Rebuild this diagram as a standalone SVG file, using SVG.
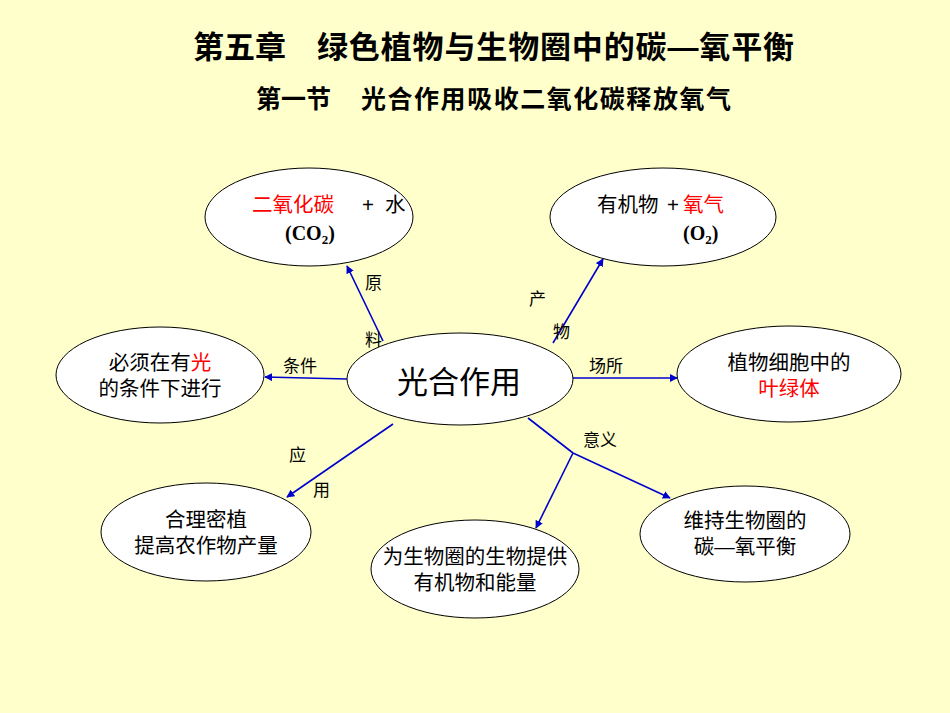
<svg xmlns="http://www.w3.org/2000/svg" width="950" height="713" viewBox="0 0 950 713">
<style>
.t{font-family:"Liberation Sans","Noto Sans CJK SC",sans-serif;fill:#000}
.title{font-size:31px;font-weight:bold}
.sub{font-size:25px;font-weight:bold}
.n{font-size:20.5px;text-anchor:middle}
.lab{font-size:17px}
.red{fill:#FF0000}
.chem{font-family:"Liberation Serif",serif;font-size:20px;font-weight:bold;fill:#000}
.node ellipse{fill:#FFFFFF;stroke:#000;stroke-width:1}
.conn line,.conn polyline{stroke:#0000CC;stroke-width:1.6;fill:none}
</style>
<defs>
<marker id="ah" viewBox="0 0 10 10" refX="9" refY="5" markerWidth="8" markerHeight="8" orient="auto" markerUnits="userSpaceOnUse">
<path d="M0,0 L10,5 L0,10 z" fill="#0000CC"/>
</marker>
</defs>
<rect x="0" y="0" width="950" height="713" fill="#FFFFCC"/>
<text class="t title" x="193" y="58">第五章</text>
<text class="t title" x="317" y="58" textLength="477">绿色植物与生物圈中的碳—氧平衡</text>
<text class="t sub" x="256" y="108">第一节</text>
<text class="t sub" x="361" y="108" textLength="370">光合作用吸收二氧化碳释放氧气</text>

<g class="conn">
<line x1="383" y1="341" x2="347" y2="266" marker-end="url(#ah)"/>
<line x1="553" y1="343" x2="603" y2="259" marker-end="url(#ah)"/>
<line x1="347" y1="379" x2="265" y2="377" marker-end="url(#ah)"/>
<line x1="557" y1="378" x2="677" y2="378" marker-end="url(#ah)"/>
<line x1="393" y1="424" x2="287" y2="497" marker-end="url(#ah)"/>
<polyline points="528,418 573,453"/>
<line x1="573" y1="453" x2="536" y2="528" marker-end="url(#ah)"/>
<line x1="573" y1="453" x2="670" y2="498" marker-end="url(#ah)"/>
<text class="t lab" x="365" y="289">原</text>
<text class="t lab" x="365" y="346">料</text>
<text class="t lab" x="529" y="305">产</text>
<text class="t lab" x="553" y="338">物</text>
<text class="t lab" x="283" y="372">条件</text>
<text class="t lab" x="589" y="372">场所</text>
<text class="t lab" x="289" y="461">应</text>
<text class="t lab" x="313" y="496">用</text>
<text class="t lab" x="583" y="446">意义</text>
</g>

<g id="n-raw" class="node">
<ellipse cx="309" cy="217" rx="104" ry="49"/>
<text class="t" style="font-size:20.5px" x="252" y="212"><tspan class="red">二氧化碳</tspan><tspan x="362">+</tspan><tspan x="385">水</tspan></text>
<text class="chem" x="285" y="240">(CO<tspan font-size="13" dy="4">2</tspan><tspan dy="-4">)</tspan></text>
</g>
<g id="n-prod" class="node">
<ellipse cx="663" cy="217" rx="113" ry="49"/>
<text class="t" style="font-size:20.5px" x="597" y="212">有机物<tspan x="667">+</tspan><tspan class="red" x="683">氧气</tspan></text>
<text class="chem" x="683" y="240">(O<tspan font-size="13" dy="4">2</tspan><tspan dy="-4">)</tspan></text>
</g>
<g id="n-cond" class="node">
<ellipse cx="160" cy="375" rx="104" ry="48"/>
<text class="t n" x="160" y="370">必须在有<tspan class="red">光</tspan><tspan x="160" dy="26">的条件下进行</tspan></text>
</g>
<g id="n-center" class="node">
<ellipse cx="460" cy="379" rx="113" ry="46"/>
<text class="t" style="font-size:31px;text-anchor:middle" x="459" y="393">光合作用</text>
</g>
<g id="n-place" class="node">
<ellipse cx="789" cy="374" rx="112" ry="48"/>
<text class="t n" x="789" y="370">植物细胞中的<tspan class="red" x="789" dy="26">叶绿体</tspan></text>
</g>
<g id="n-app" class="node">
<ellipse cx="206" cy="532" rx="105" ry="49"/>
<text class="t n" x="206" y="527">合理密植<tspan x="206" dy="26">提高农作物产量</tspan></text>
</g>
<g id="n-mean1" class="node">
<ellipse cx="475" cy="569" rx="104" ry="49"/>
<text class="t n" x="475" y="564">为生物圈的生物提供<tspan x="475" dy="26">有机物和能量</tspan></text>
</g>
<g id="n-mean2" class="node">
<ellipse cx="745" cy="534" rx="105" ry="48"/>
<text class="t n" x="745" y="528">维持生物圈的<tspan x="745" dy="26">碳—氧平衡</tspan></text>
</g>
</svg>
